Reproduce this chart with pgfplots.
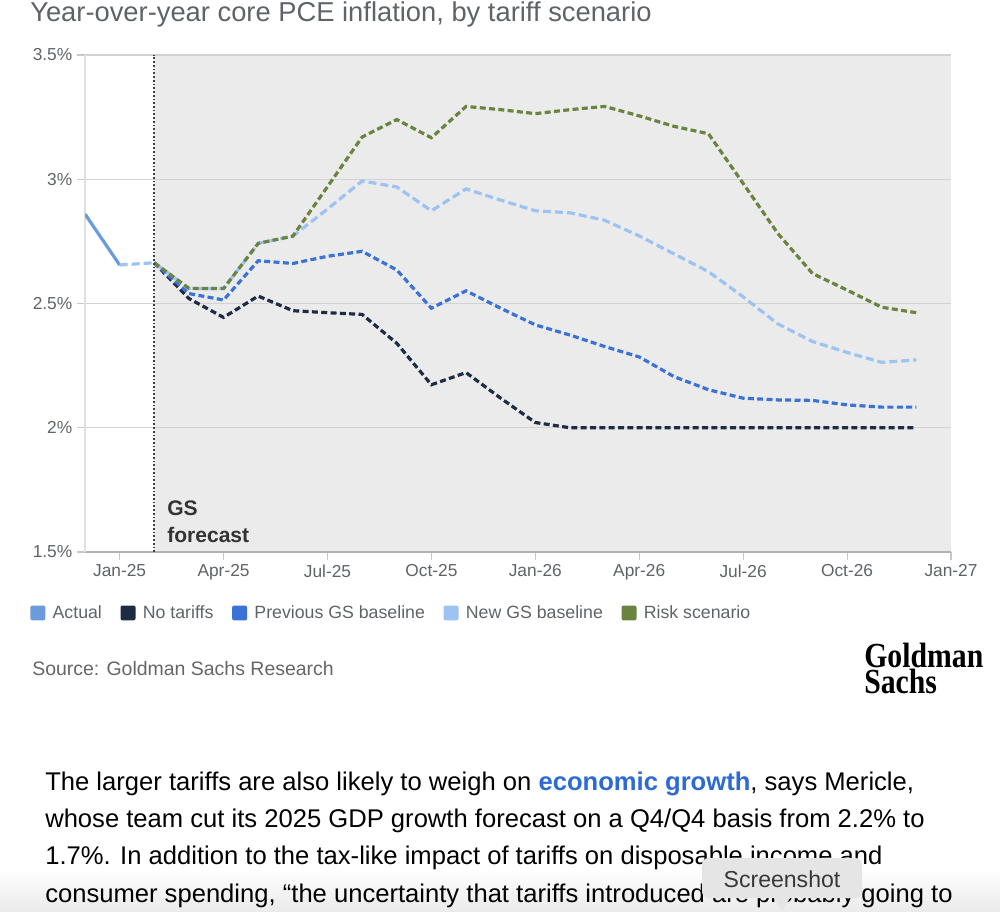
\documentclass[border=0pt]{standalone}
\usepackage{fontspec}
\setmainfont{Liberation Sans}
\newfontfamily\logofont{Liberation Serif}
\usepackage{pgfplots}
\pgfplotsset{compat=1.18}
\definecolor{cActual}{HTML}{6A9BDC}
\definecolor{cNo}{HTML}{1E2B45}
\definecolor{cPrev}{HTML}{3A72D8}
\definecolor{cNew}{HTML}{9DC3F3}
\definecolor{cRisk}{HTML}{6A8440}
\definecolor{cShade}{HTML}{EBEBEB}
\definecolor{cGrid}{HTML}{D2D2D2}
\definecolor{cTxt}{HTML}{5F6368}
\definecolor{cLink}{HTML}{2D6AD6}
\begin{document}
\begin{tikzpicture}[x=0.75pt,y=0.75pt]
\shade[top color=white, bottom color=black!8] (0,0) rectangle (1000,42);
\begin{axis}[
  at={(63.75pt,269.25pt)}, anchor=south west,
  scale only axis, width=649.5pt, height=372.75pt,
  set layers,
  xmin=0, xmax=25, ymin=1.5, ymax=3.5,
  axis x line*=bottom, axis y line*=left,
  x axis line style={draw=black!30, line width=0.8pt},
  y axis line style={draw=black!12, line width=0.8pt},
  xtick={1,4,7,10,13,16,19,22,25},
  xticklabels={Jan-25,Apr-25,Jul-25,Oct-25,Jan-26,Apr-26,Jul-26,Oct-26,Jan-27},
  ytick={1.5,2,2.5,3,3.5},
  yticklabels={1.5\%,2\%,2.5\%,3\%,3.5\%},
  ymajorgrids=true,
  grid style={draw=cGrid, line width=0.9pt},
  tick align=outside, major tick length=6pt,
  tick style={draw=black!22, line width=0.8pt},
  xtick pos=bottom, ytick pos=left,
  ticklabel style={font=\fontsize{13}{15}\selectfont, text=cTxt},
  /pgf/number format/assume math mode=true,
  legend style={at={(-0.068,-0.1227)}, anchor=west, draw=none, fill=none,
    font=\fontsize{13.3}{15}\selectfont, text=cTxt,
    /tikz/every even column/.append style={column sep=12pt}},
  legend columns=-1,
  legend cell align=left,
]
\addplot[fill=cShade, draw=none, forget plot, on layer=axis background]
  coordinates {(2,1.5) (25,1.5) (25,3.5) (2,3.5)} -- cycle;
\addplot[cActual, line width=2.4pt,
  legend image code/.code={\path[fill=cActual, draw=none, rounded corners=1.5pt] (0pt,-5.6pt) rectangle (11.2pt,5.6pt); \path (13.5pt,0pt);}]
  coordinates {(0,2.86) (1,2.655)};
\addlegendentry{Actual}
\addplot[cNo, line width=2.4pt, dash pattern=on 4.5pt off 2.5pt,
  legend image code/.code={\path[fill=cNo, draw=none, rounded corners=1.5pt] (0pt,-5.6pt) rectangle (11.2pt,5.6pt); \path (13.5pt,0pt);}]
  coordinates {(2,2.664) (3,2.52) (4,2.444) (5,2.53) (6,2.471) (7,2.463) (8,2.456)
    (9,2.34) (10,2.173) (11,2.222) (12,2.119) (13,2.021) (14,2.0) (15,2.0) (16,2.0)
    (17,2.0) (18,2.0) (19,2.0) (20,2.0) (21,2.0) (22,2.0) (23,2.0) (24,2.0)};
\addlegendentry{No tariffs}
\addplot[cPrev, line width=2.4pt, dash pattern=on 4.5pt off 2.5pt,
  legend image code/.code={\path[fill=cPrev, draw=none, rounded corners=1.5pt] (0pt,-5.6pt) rectangle (11.2pt,5.6pt); \path (13.5pt,0pt);}]
  coordinates {(2,2.664) (3,2.54) (4,2.514) (5,2.672) (6,2.661) (7,2.69) (8,2.71)
    (9,2.635) (10,2.481) (11,2.551) (12,2.481) (13,2.414) (14,2.373) (15,2.327) (16,2.285)
    (17,2.206) (18,2.153) (19,2.119) (20,2.112) (21,2.11) (22,2.092) (23,2.083) (24,2.083)};
\addlegendentry{Previous GS baseline}
\addplot[cNew, line width=2.4pt, dash pattern=on 6pt off 3pt,
  legend image code/.code={\path[fill=cNew, draw=none, rounded corners=1.5pt] (0pt,-5.6pt) rectangle (11.2pt,5.6pt); \path (13.5pt,0pt);}]
  coordinates {(1,2.655) (2,2.664) (3,2.56) (4,2.56) (5,2.742) (6,2.771) (7,2.88) (8,2.993)
    (9,2.969) (10,2.873) (11,2.961) (12,2.916) (13,2.873) (14,2.865) (15,2.835) (16,2.772)
    (17,2.70) (18,2.628) (19,2.527) (20,2.418) (21,2.347) (22,2.303) (23,2.263) (24,2.273)};
\addlegendentry{New GS baseline}
\addplot[cRisk, line width=2.4pt, dash pattern=on 4.5pt off 2.5pt,
  legend image code/.code={\path[fill=cRisk, draw=none, rounded corners=1.5pt] (0pt,-5.6pt) rectangle (11.2pt,5.6pt); \path (13.5pt,0pt);}]
  coordinates {(2,2.664) (3,2.561) (4,2.56) (5,2.742) (6,2.771) (7,2.97) (8,3.17)
    (9,3.24) (10,3.167) (11,3.293) (12,3.28) (13,3.264) (14,3.28) (15,3.293) (16,3.255)
    (17,3.213) (18,3.183) (19,2.983) (20,2.782) (21,2.621) (22,2.554) (23,2.485) (24,2.463)};
\addlegendentry{Risk scenario}
\draw[black!75, line width=1.5pt, dash pattern=on 1.3pt off 1.5pt] (axis cs:2,1.5) -- (axis cs:2,3.5);
\end{axis}
% title
\node[anchor=base west, inner sep=0pt, text=cTxt, font=\fontsize{20.5}{24}\selectfont] at (30,889) {Year-over-year core PCE inflation, by tariff scenario};
% GS forecast
\node[anchor=base west, inner sep=0pt, text=black!80, font=\fontsize{15.8}{18}\selectfont\bfseries] at (167,395) {GS};
\node[anchor=base west, inner sep=0pt, text=black!80, font=\fontsize{15.8}{18}\selectfont\bfseries] at (167,368) {forecast};
% source
\node[anchor=base west, inner sep=0pt, text=black!60, font=\fontsize{14.6}{17}\selectfont] at (32,235) {Source: Goldman Sachs Research};
% logo
\node[anchor=base west, inner sep=0pt, align=left, font=\logofont\bfseries\fontsize{24}{18.4}\selectfont, xscale=0.93, yscale=1.1] at (864,217) {Goldman\\Sachs};
% paragraph
\begin{scope}[every node/.style={anchor=base west, inner sep=0pt, font=\fontsize{19.2}{23}\selectfont, text=black}]
\node at (45,121) {The larger tariffs are also likely to weigh on {\color{cLink}\bfseries economic growth}, says Mericle,};
\node at (45,84) {whose team cut its 2025 GDP growth forecast on a Q4/Q4 basis from 2.2\% to};
\node at (45,46.5) {1.7\%. In addition to the tax-like impact of tariffs on disposable income and};
\node at (45,9) {consumer spending, “the uncertainty that tariffs introduced are probably going to};
\end{scope}
% tooltip
\fill[black!10, rounded corners=5pt] (702,13) rectangle (862,53);
\fill[black!10] (774,13) -- (790,13) -- (782,0) -- cycle;
\node[text=black!78, font=\fontsize{17.3}{20}\selectfont] at (782,32) {Screenshot};
\pgfresetboundingbox
\path (0,0) rectangle (1000,911);
\end{tikzpicture}
\end{document}
